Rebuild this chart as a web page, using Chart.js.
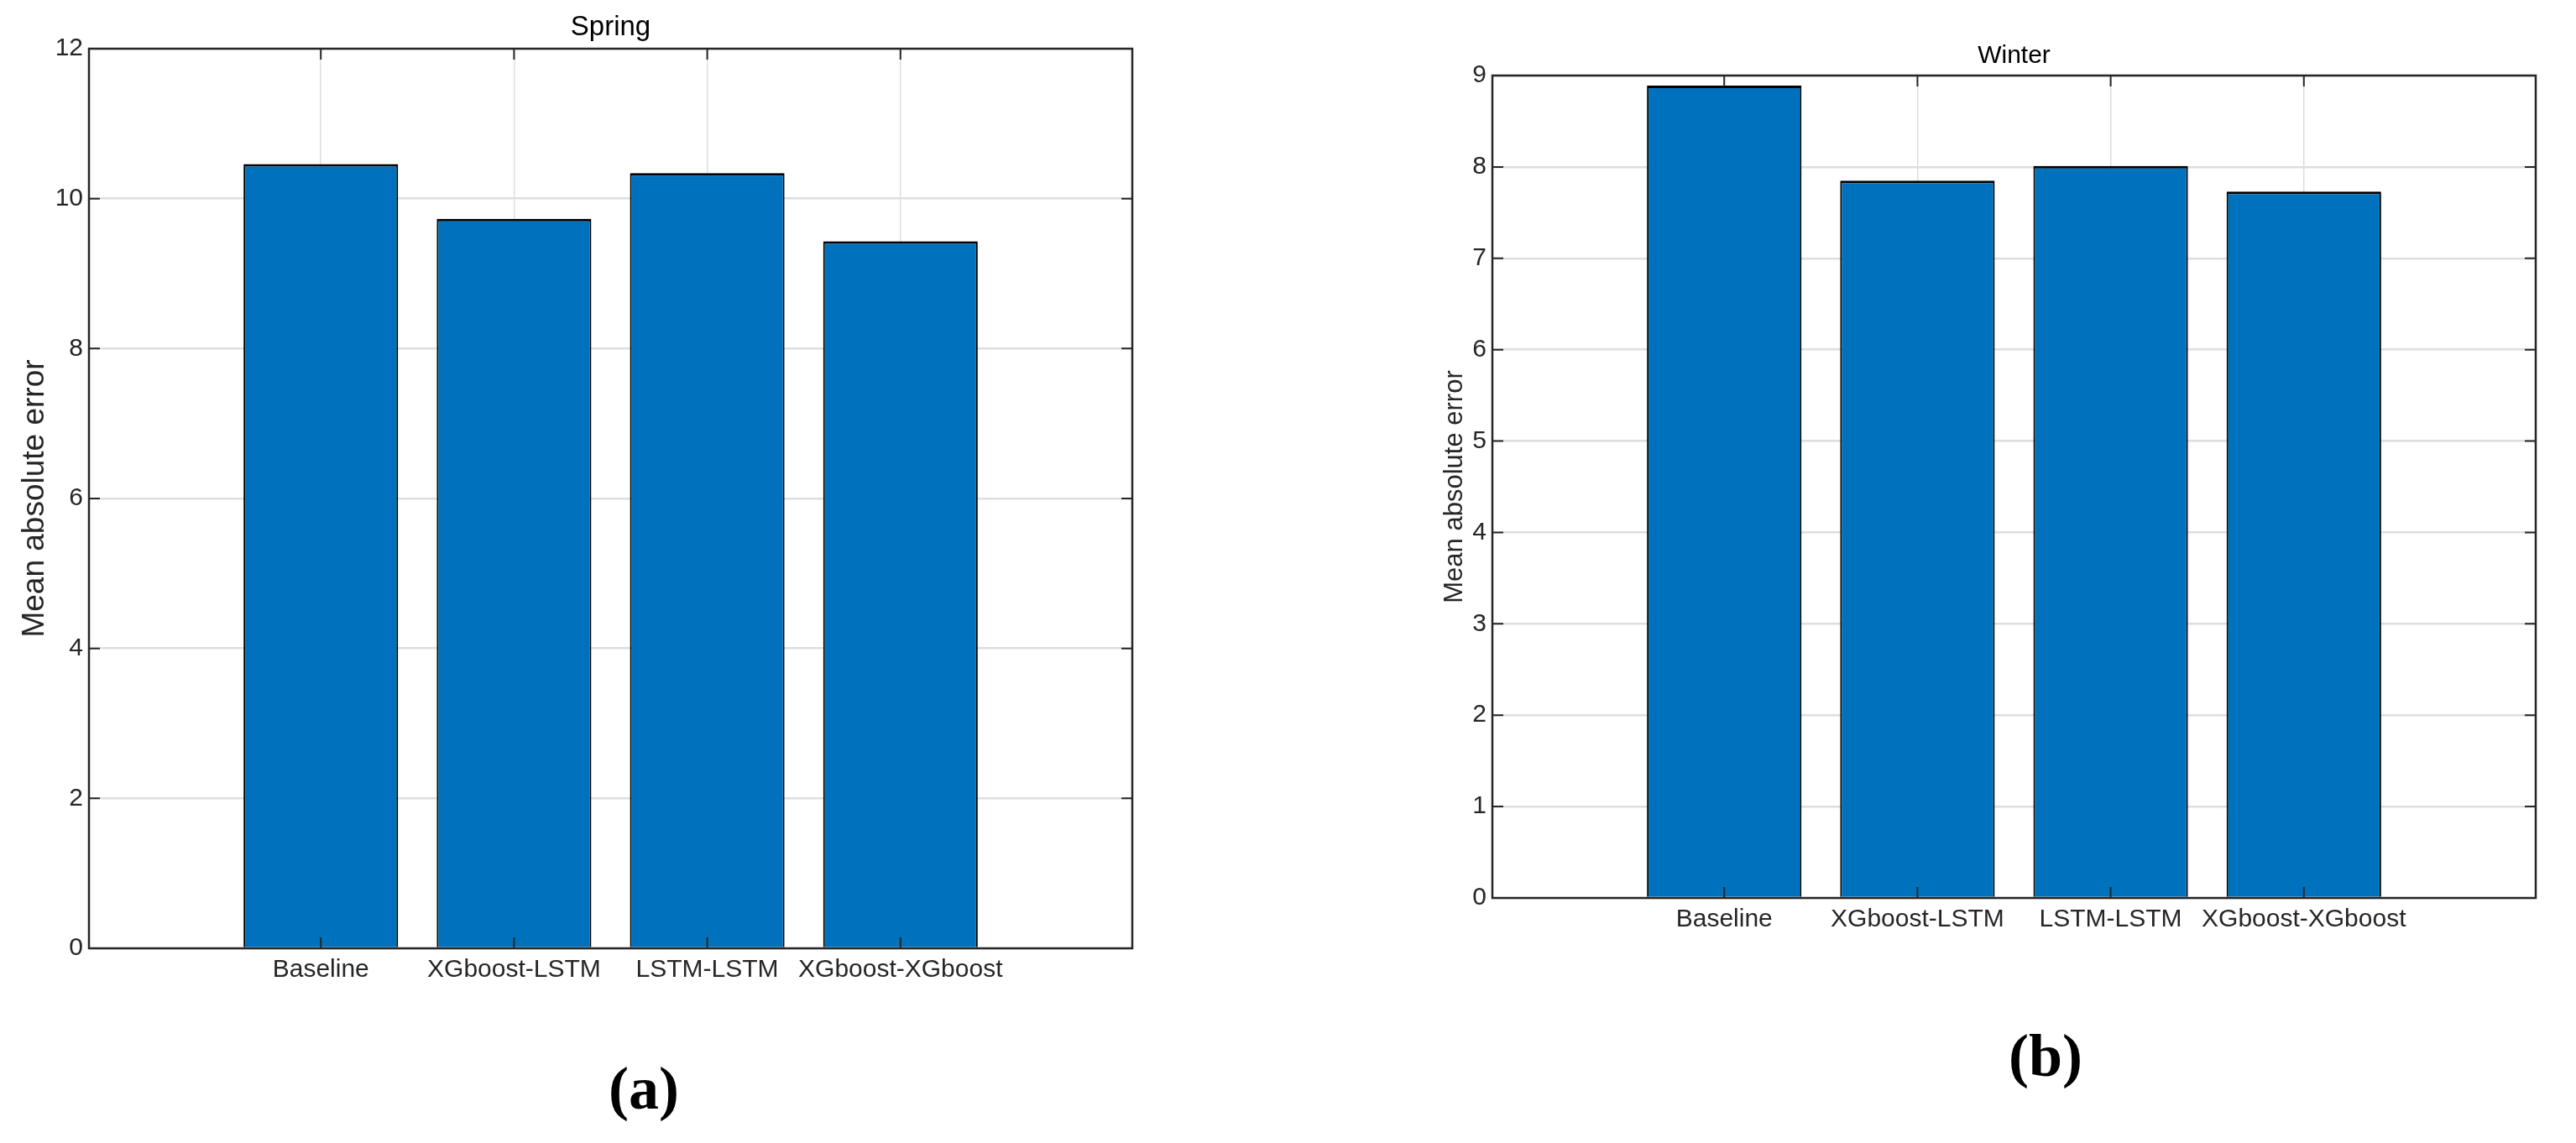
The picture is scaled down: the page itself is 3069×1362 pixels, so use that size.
<!DOCTYPE html>
<html>
<head>
<meta charset="utf-8">
<title>Mean absolute error - Spring / Winter</title>
<script src="https://cdn.jsdelivr.net/npm/chart.js@4.4.1/dist/chart.umd.min.js"></script>
<style>
  html, body { margin: 0; padding: 0; background: #fff; overflow: hidden; }
  body { width: 3069px; height: 1362px; position: relative; }
  .panel { position: absolute; top: 0; height: 1362px; }
  #panelA { left: 0; width: 1534px; }
  #panelB { left: 1534px; width: 1806px; }
</style>
</head>
<body>
<div class="panel" id="panelA"><canvas id="springChart"></canvas></div>
<div class="panel" id="panelB"><canvas id="winterChart"></canvas></div>
<script>
const categories = ['Baseline', 'XGboost-LSTM', 'LSTM-LSTM', 'XGboost-XGboost'];
const springValues = [10.46, 9.73, 10.34, 9.43];
const winterValues = [8.89, 7.85, 8.01, 7.73];
const springTicks = [0, 2, 4, 6, 8, 10, 12];
const winterTicks = [0, 1, 2, 3, 4, 5, 6, 7, 8, 9];

const axisColor = '#262626';
const gridColor = '#dedede';
const barColor = '#0072BD';

Chart.defaults.font.family = '"Liberation Sans", Arial, sans-serif';
Chart.defaults.color = axisColor;

// matlab style box with inward ticks, drawn over the bars
const matlabBox = {
    id: 'matlabBox',
    afterDatasetsDraw(chart) {
        const { ctx, chartArea: a, scales: { x, y } } = chart;
        const len = 13;
        ctx.save();
        ctx.strokeStyle = axisColor;
        ctx.lineWidth = 2;
        ctx.beginPath();
        y.ticks.forEach(t => {
            const py = y.getPixelForValue(t.value);
            ctx.moveTo(a.left, py); ctx.lineTo(a.left + len, py);
            ctx.moveTo(a.right - len, py); ctx.lineTo(a.right, py);
        });
        x.ticks.forEach(t => {
            const px = x.getPixelForValue(t.value);
            ctx.moveTo(px, a.top); ctx.lineTo(px, a.top + len);
            ctx.moveTo(px, a.bottom - len); ctx.lineTo(px, a.bottom);
        });
        ctx.stroke();
        ctx.lineWidth = 2.5;
        ctx.strokeRect(a.left, a.top, a.right - a.left, a.bottom - a.top);
        ctx.restore();
    }
};

function makePanel(canvasId, cfg) {
    const xPad = 1.2;
    new Chart(document.getElementById(canvasId), {
        type: 'bar',
        data: {
            datasets: [{
                data: cfg.values.map((v, i) => ({ x: i + 1, y: v })),
                backgroundColor: barColor,
                borderColor: '#000',
                borderWidth: { top: 3, left: 2, right: 2, bottom: 0 },
                borderSkipped: false,
                barPercentage: 0.8,
                categoryPercentage: 1
            }]
        },
        options: {
            responsive: true,
            maintainAspectRatio: false,
            animation: false,
            layout: { padding: 0 },
            plugins: {
                legend: { display: false },
                tooltip: { enabled: false },
                title: {
                    display: true,
                    text: cfg.title,
                    fullSize: false,
                    color: '#000',
                    font: { size: cfg.titleSize, weight: 'normal', lineHeight: 1.2 },
                    padding: cfg.titlePad
                },
                subtitle: {
                    display: true,
                    text: cfg.label,
                    position: 'bottom',
                    fullSize: true,
                    color: '#000',
                    font: { family: '"Liberation Serif", "Times New Roman", serif', size: 72, weight: 'bold', lineHeight: 1 },
                    padding: cfg.subPad
                }
            },
            scales: {
                x: {
                    type: 'linear',
                    min: 1 - xPad,
                    max: categories.length + xPad,
                    offset: false,
                    afterBuildTicks: axis => { axis.ticks = categories.map((c, i) => ({ value: i + 1 })); },
                    afterFit: s => { s.height = 100; },
                    grid: { color: gridColor, lineWidth: 1.5, drawTicks: false, offset: false },
                    border: { display: false },
                    ticks: {
                        callback: v => categories[v - 1],
                        autoSkip: false,
                        maxRotation: 0,
                        minRotation: 0,
                        padding: 8,
                        font: { size: 30 }
                    }
                },
                y: {
                    min: 0,
                    max: cfg.ticks[cfg.ticks.length - 1],
                    afterBuildTicks: axis => { axis.ticks = cfg.ticks.map(v => ({ value: v })); },
                    afterFit: s => { s.width = cfg.yWidth; },
                    grid: { color: gridColor, lineWidth: 2.5, drawTicks: false },
                    border: { display: false },
                    ticks: { padding: 7, font: { size: 30 } },
                    title: {
                        display: true,
                        text: 'Mean absolute error',
                        color: axisColor,
                        font: { size: cfg.yTitleSize },
                        padding: { top: cfg.yTitlePad, bottom: 0 }
                    }
                },
                yRight: {
                    type: 'linear',
                    position: 'right',
                    grid: { display: false, drawTicks: false },
                    border: { display: false },
                    ticks: { display: false },
                    afterFit: s => { s.width = cfg.rightWidth; }
                }
            }
        },
        plugins: [matlabBox]
    });
}

document.addEventListener('DOMContentLoaded', function() {
    makePanel('springChart', {
        title: 'Spring', label: '(a)',
        values: springValues, ticks: springTicks,
        titleSize: 33, titlePad: { top: 13, bottom: 5.4 },
        subPad: { top: 36, bottom: 24 },
        yWidth: 106, yTitleSize: 37, yTitlePad: 20,
        rightWidth: 185
    });
    makePanel('winterChart', {
        title: 'Winter', label: '(b)',
        values: winterValues, ticks: winterTicks,
        titleSize: 30, titlePad: { top: 48.6, bottom: 5.4 },
        subPad: { top: 57, bottom: 63 },
        yWidth: 244, yTitleSize: 31, yTitlePad: 180.4,
        rightWidth: 319
    });
});
</script>
</body>
</html>
